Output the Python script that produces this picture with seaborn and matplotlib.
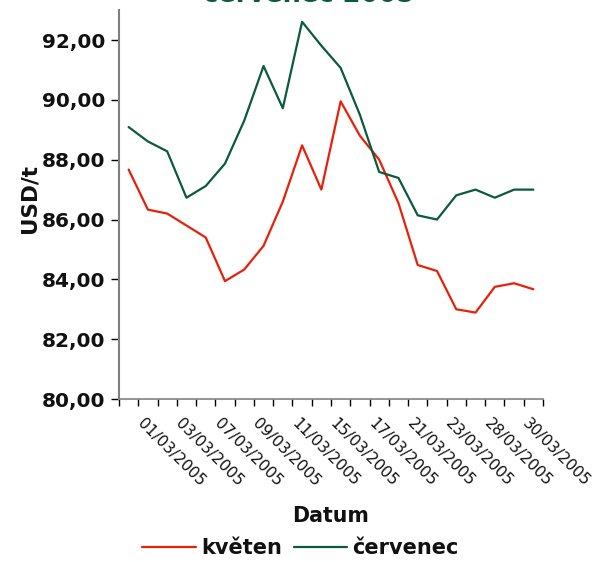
import numpy as np
import pandas as pd
import matplotlib
matplotlib.use("Agg")
import matplotlib.pyplot as plt
import seaborn as sns

# data (USD/t, March 2005 trading days)
dates = ["01/03/2005", "02/03/2005", "03/03/2005", "04/03/2005", "07/03/2005",
         "08/03/2005", "09/03/2005", "10/03/2005", "11/03/2005", "14/03/2005",
         "15/03/2005", "16/03/2005", "17/03/2005", "18/03/2005", "21/03/2005",
         "22/03/2005", "23/03/2005", "24/03/2005", "28/03/2005", "29/03/2005",
         "30/03/2005", "31/03/2005"]
kveten = [87.67, 86.33, 86.20, 85.80, 85.40, 83.94, 84.33, 85.12, 86.60, 88.48,
          87.00, 89.95, 88.80, 88.00, 86.55, 84.48, 84.28, 83.00, 82.89, 83.75,
          83.87, 83.67]
cervenec = [89.09, 88.61, 88.28, 86.73, 87.12, 87.87, 89.31, 91.13, 89.72, 92.61,
            91.81, 91.07, 89.50, 87.59, 87.39, 86.14, 86.00, 86.81, 87.00, 86.73,
            87.00, 87.00]

df = pd.DataFrame({"Datum": dates, "květen": kveten, "červenec": cervenec})
long = df.melt(id_vars="Datum", var_name="série", value_name="USD/t")
long["pos"] = long["Datum"].map({d: i for i, d in enumerate(dates)})

sns.set_style("white")
plt.rcParams["font.family"] = ["DejaVu Sans"]

fig = plt.figure(figsize=(5.95, 5.62), dpi=100)
ax = fig.add_axes([0.2, 0.29, 0.7126, 0.692])

sns.lineplot(data=long, x="pos", y="USD/t", hue="série",
             palette={"květen": "#e8200a", "červenec": "#0b5a3e"},
             linewidth=1.6, ax=ax, legend=False)

ax.set_xlim(-0.5, len(dates) - 0.5)
ax.set_ylim(80, 93)
yt = np.arange(80, 93, 2)
ax.set_yticks(yt)
ax.set_yticklabels([f"{v:.2f}".replace(".", ",") for v in yt],
                   fontsize=14.5, fontweight="bold", color="#111111")

# category axis: ticks between categories, labels on every other one
# (Excel draws the slanted labels a bit to the right of the category)
ax.set_xticks(np.arange(-0.5, len(dates)), minor=True)
ax.set_xticks(np.arange(0, len(dates), 2) + 0.85)
ax.set_xticklabels(dates[::2], rotation=-45, ha="left", va="top",
                   rotation_mode="anchor", fontsize=11.2, color="#111111")
ax.tick_params(axis="x", which="major", length=0, pad=12)
ax.tick_params(axis="x", which="minor", length=5, width=1, color="black",
               direction="out", bottom=True)
ax.tick_params(axis="y", length=6, width=1, color="black", direction="out",
               left=True, pad=4)

for s in ["top", "right"]:
    ax.spines[s].set_visible(False)
ax.spines["left"].set_color("#808080")
ax.spines["left"].set_linewidth(1.5)
ax.spines["bottom"].set_color("#808080")
ax.spines["bottom"].set_linewidth(1.2)

ax.set_xlabel("Datum", fontsize=14.8, fontweight="bold", labelpad=12,
              color="#111111")
ax.set_ylabel("USD/t", fontsize=15.5, fontweight="bold", color="#111111")
ax.yaxis.set_label_coords(-0.188, 0.515)

fig.text(0.518, 1 - 2 / 562, "červenec 2005", color="#0b5a3e", fontsize=18.5,
         fontweight="bold", ha="center", va="baseline")

handles = [plt.Line2D([], [], color="#e8200a", lw=1.6),
           plt.Line2D([], [], color="#0b5a3e", lw=1.6)]
fig.legend(handles, ["květen", "červenec"], loc="center",
           bbox_to_anchor=(0.505, 1 - 548 / 562), ncol=2, frameon=False,
           prop={"size": 15, "weight": "bold"}, labelcolor="#111111",
           handlelength=2.55, handletextpad=0.25, columnspacing=0.58)

fig.savefig("out.png", dpi=100)
